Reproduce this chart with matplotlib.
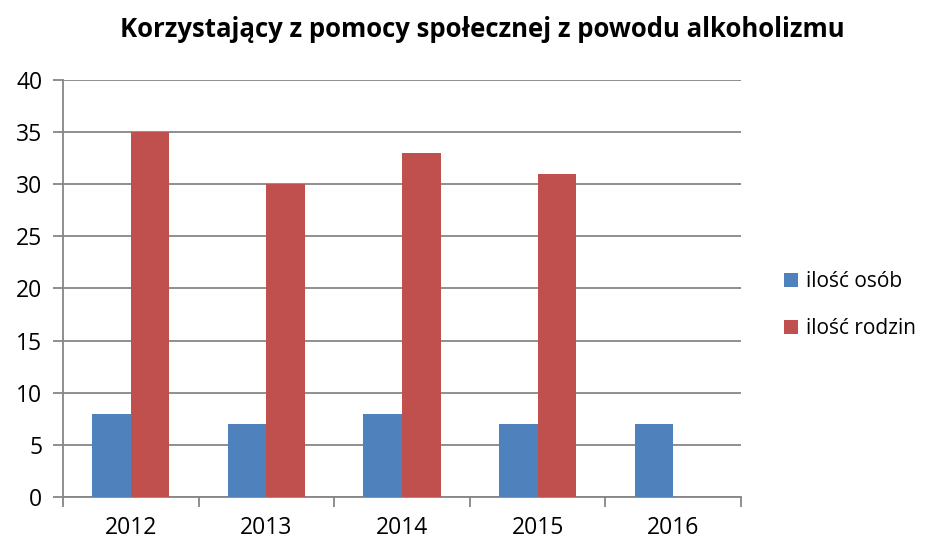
import numpy as np
import matplotlib.pyplot as plt

years = ['2012', '2013', '2014', '2015', '2016']
osob = [8, 7, 8, 7, 7]
rodzin = [35, 30, 33, 31, 0]

plt.rcParams['font.family'] = ['Open Sans', 'DejaVu Sans']

fig = plt.figure(figsize=(9.28, 5.39), dpi=100)
ax = fig.add_axes([0.0679, 0.0779, 0.7306, 0.7737])

x = np.arange(len(years))
w = 0.285
grey = '#868686'
ax.bar(x - w / 2, osob, w, color='#4f81bd', label='ilość osób', zorder=3)
ax.bar(x + w / 2, rodzin, w, color='#c0504d', label='ilość rodzin', zorder=3)

ax.set_xlim(-0.5, len(years) - 0.5)
ax.set_ylim(0, 40)
ax.set_yticks(range(0, 41, 5))
ax.yaxis.grid(True, color=grey, linewidth=1.3, zorder=0)

ax.set_xticks(np.arange(-0.5, len(years), 1))
ax.set_xticklabels([])
ax.set_xticks(x, minor=True)
ax.set_xticklabels(years, minor=True)
ax.tick_params(axis='x', which='major', length=7, width=1.3, color=grey)
ax.tick_params(axis='x', which='minor', length=0, pad=14, labelsize=16.5)
ax.tick_params(axis='y', length=7, width=1.3, color=grey, labelsize=16.5, pad=8)

for s in ['top', 'right']:
    ax.spines[s].set_visible(False)
for s in ['left', 'bottom']:
    ax.spines[s].set_color(grey)
    ax.spines[s].set_linewidth(1.3)

fig.text(0.52, 0.945, 'Korzystający z pomocy społecznej z powodu alkoholizmu',
         ha='center', va='center', fontsize=18.5, fontweight='bold')

fig.legend(loc='center left', bbox_to_anchor=(0.845, 0.434), frameon=False,
           borderpad=0, borderaxespad=0,
           fontsize=15, handlelength=0.65, handleheight=0.65, handletextpad=0.4,
           labelspacing=1.25)

fig.savefig('out.png', dpi=100)
